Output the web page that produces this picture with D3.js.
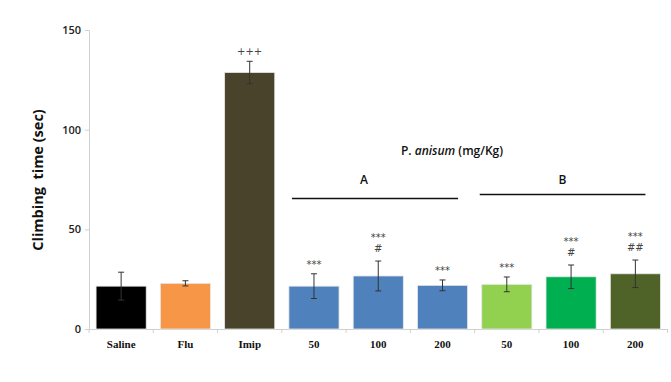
<!DOCTYPE html>
<html><head><meta charset="utf-8">
<script src="https://cdn.jsdelivr.net/npm/d3@7"></script>
<style>body{margin:0;background:#fff}svg{display:block}</style>
</head><body>
<svg id="c" width="671" height="382"></svg>
<script>
const categories = ["Saline","Flu","Imip","50","100","200","50","100","200"];
const values = [21.5, 22.9, 128.7, 21.5, 26.6, 21.9, 22.4, 26.2, 27.7];
const errors = [7.0, 1.3, 5.6, 6.2, 7.5, 2.7, 3.7, 5.9, 6.9];
const colors = ["#000000","#f79646","#4a432b","#4f81bd","#4f81bd","#4f81bd","#92d050","#00b050","#4f6228"];
const sigTop = ["","","+++","***","***","***","***","***","***"];
const sigBottom = ["","","","","#","","","#","##"];
const yTicks = [0, 50, 100, 150];
const groups = [{label:"A", from:3, to:5}, {label:"B", from:6, to:8}];

const svg = d3.select("#c");
const x = d3.scaleBand().domain(d3.range(categories.length)).range([89, 667.5]).paddingInner(0.22).paddingOuter(0.11);
const y = d3.scaleLinear().domain([0,150]).range([329,30]);

// y axis
const ya = svg.append("g").attr("transform","translate(89,0)")
  .call(d3.axisLeft(y).tickValues(yTicks).tickSize(4).tickSizeOuter(0));
ya.select(".domain").attr("stroke","#d0d0d0");
ya.selectAll(".tick line").attr("stroke","#d0d0d0");
ya.selectAll(".tick text").attr("font-family","Open Sans, sans-serif").attr("font-weight","600")
  .attr("font-size","11px").attr("fill","#222").attr("x",-8);

// x axis
const xa = svg.append("g").attr("transform","translate(0,329)")
  .call(d3.axisBottom(x).tickFormat(i=>categories[i]).tickSize(0).tickSizeOuter(0));
xa.select(".domain").attr("stroke","#d0d0d0");
xa.selectAll(".tick text").attr("font-family","Liberation Serif, serif").attr("font-weight","bold")
  .attr("font-size","11px").attr("fill","#111").attr("dy","0").attr("y",19);
// category separators
svg.append("g").selectAll("line").data(d3.range(categories.length+1)).join("line")
  .attr("x1",i=>x.range()[0] + i*x.step()).attr("x2",i=>x.range()[0] + i*x.step())
  .attr("y1",329).attr("y2",333).attr("stroke","#d0d0d0");

// bars
const idx = d3.range(categories.length);
svg.append("g").selectAll("rect").data(idx).join("rect")
  .attr("x",i=>x(i)).attr("width",x.bandwidth())
  .attr("y",i=>y(values[i])).attr("height",i=>y(0)-y(values[i]))
  .attr("fill",i=>colors[i]).attr("stroke","#e8e8e8").attr("stroke-width",0.8);

// error bars
const eb = svg.append("g").attr("stroke","#333").attr("stroke-width",1);
idx.forEach(i=>{
  const cx = x(i)+x.bandwidth()/2;
  const top = y(values[i]+errors[i]), bot = y(values[i]-errors[i]);
  eb.append("line").attr("x1",cx).attr("x2",cx).attr("y1",top).attr("y2",bot);
  eb.append("line").attr("x1",cx-3).attr("x2",cx+3).attr("y1",top).attr("y2",top);
  eb.append("line").attr("x1",cx-3).attr("x2",cx+3).attr("y1",bot).attr("y2",bot);
});

// significance marks
const sg = svg.append("g").attr("font-family","DejaVu Sans, sans-serif").attr("text-anchor","middle").attr("fill","#444");
idx.forEach(i=>{
  const cx = x(i)+x.bandwidth()/2;
  const top = y(values[i]+errors[i]);
  if (sigBottom[i]) {
    sg.append("text").attr("x",cx).attr("y",top-9).attr("font-size","10px").text(sigBottom[i]);
    sg.append("text").attr("x",cx).attr("y",top-20).attr("font-size","10px").text(sigTop[i]);
  } else if (sigTop[i]) {
    sg.append("text").attr("x",cx).attr("y",top-6).attr("font-size","10px").text(sigTop[i]);
  }
});

// group lines and labels
const lineLayout = [
  {y:198.5, startOff:3, endOff:-9.5, labelOff:-11},
  {y:194.5, startOff:-2, endOff:-15, labelOff:0}
];
groups.forEach((g,k)=>{
  const L = lineLayout[k];
  const x1 = x(g.from)+L.startOff, x2 = x(g.to)+x.bandwidth()+L.endOff;
  svg.append("line").attr("x1",x1).attr("x2",x2).attr("y1",L.y).attr("y2",L.y)
    .attr("stroke","#111").attr("stroke-width",1.6);
  svg.append("text").attr("x",(x1+x2)/2 + L.labelOff).attr("y",184)
    .attr("text-anchor","middle").attr("font-family","Open Sans, sans-serif").attr("font-weight","600")
    .attr("font-size","12px").attr("fill","#111").text(g.label);
});

// title P. anisum
const t = svg.append("text").attr("x",452).attr("y",155).attr("text-anchor","middle")
  .attr("font-family","Open Sans, sans-serif").attr("font-weight","600").attr("font-size","12px").attr("fill","#111");
t.append("tspan").text("P. ");
t.append("tspan").attr("font-style","italic").text("anisum");
t.append("tspan").text(" (mg/Kg)");

// y title
svg.append("text").attr("transform","translate(43,180) rotate(-90)").attr("text-anchor","middle")
  .attr("font-family","Open Sans, sans-serif").attr("font-weight","bold").attr("font-size","14.5px").attr("fill","#111")
  .attr("xml:space","preserve").style("white-space","pre").text("Climbing  time (sec)");
</script>
</body></html>
